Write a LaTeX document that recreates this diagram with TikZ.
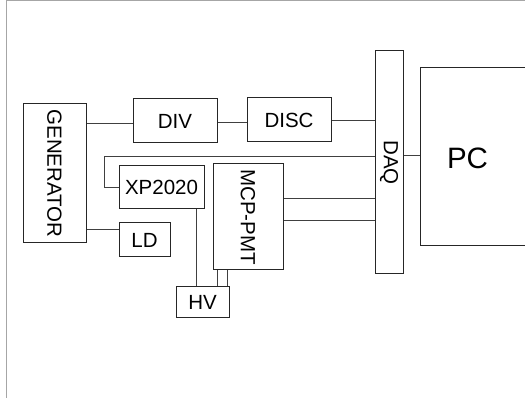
\documentclass[tikz,border=0pt]{standalone}
\usepackage{fontspec}
\setmainfont{Liberation Sans}
\begin{document}
\begin{tikzpicture}[x=1pt,y=-1pt,
  box/.style={draw=black!85, line width=1pt, inner sep=0pt, fill=white, font=\fontsize{20.5}{24}\selectfont},
  wire/.style={draw=black!75, line width=1pt},
  frameline/.style={draw=black!35, line width=1pt}]
\useasboundingbox (0,0) rectangle (525,398);
\draw[frameline] (525,0.5) -- (6,0.5) -- (6,398);
% nodes
\node[box, minimum width=63, minimum height=139] (gen) at (54.5,173.5) {\rotatebox{-90}{GENERATOR}};
\node[box, minimum width=84, minimum height=44] (div) at (175,121) {DIV};
\node[box, minimum width=84, minimum height=44] (disc) at (289,120) {DISC};
\node[box, minimum width=28, minimum height=223] (daq) at (389,162.5) {\rotatebox{-90}{DAQ}};
\node[box, minimum width=160, minimum height=178, label={[font=\fontsize{29.5}{34}\selectfont, xshift=-32.5pt, yshift=-1pt]center:PC}] (pc) at (500,157) {};
\node[box, minimum width=85, minimum height=43] (xp) at (161.5,187.5) {XP2020};
\node[box, minimum width=51, minimum height=34] (ld) at (144.5,240) {LD};
\node[box, minimum width=70, minimum height=106] (mcp) at (248,217) {\rotatebox{-90}{MCP-PMT}};
\node[box, minimum width=53, minimum height=30] (hv) at (202.5,302) {HV};
% connectors
\draw[wire] (gen.east |- {(0,124)}) -- (div.west |- {(0,124)});
\draw[wire] (div.east |- {(0,123)}) -- (disc.west |- {(0,123)});
\draw[wire] (disc.east |- {(0,121)}) -- (daq.west |- {(0,121)});
\draw[wire] (xp.west) -- ++(-14,0) |- (daq.west |- {(0,157)});
\draw[wire] (gen.east |- {(0,230)}) -- (ld.west |- {(0,230)});
\draw[wire] (mcp.east |- {(0,199)}) -- (daq.west |- {(0,199)});
\draw[wire] (mcp.east |- {(0,221)}) -- (daq.west |- {(0,221)});
\draw[wire] (xp.south -| {(196,0)}) -- (hv.north -| {(196,0)});
\draw[wire] (mcp.south -| {(217,0)}) -- (hv.north -| {(217,0)});
\draw[wire] (mcp.south -| {(227,0)}) -- (hv.north -| {(227,0)});
\draw[wire] (daq.east |- {(0,156)}) -- (pc.west |- {(0,156)});
\end{tikzpicture}
\end{document}
